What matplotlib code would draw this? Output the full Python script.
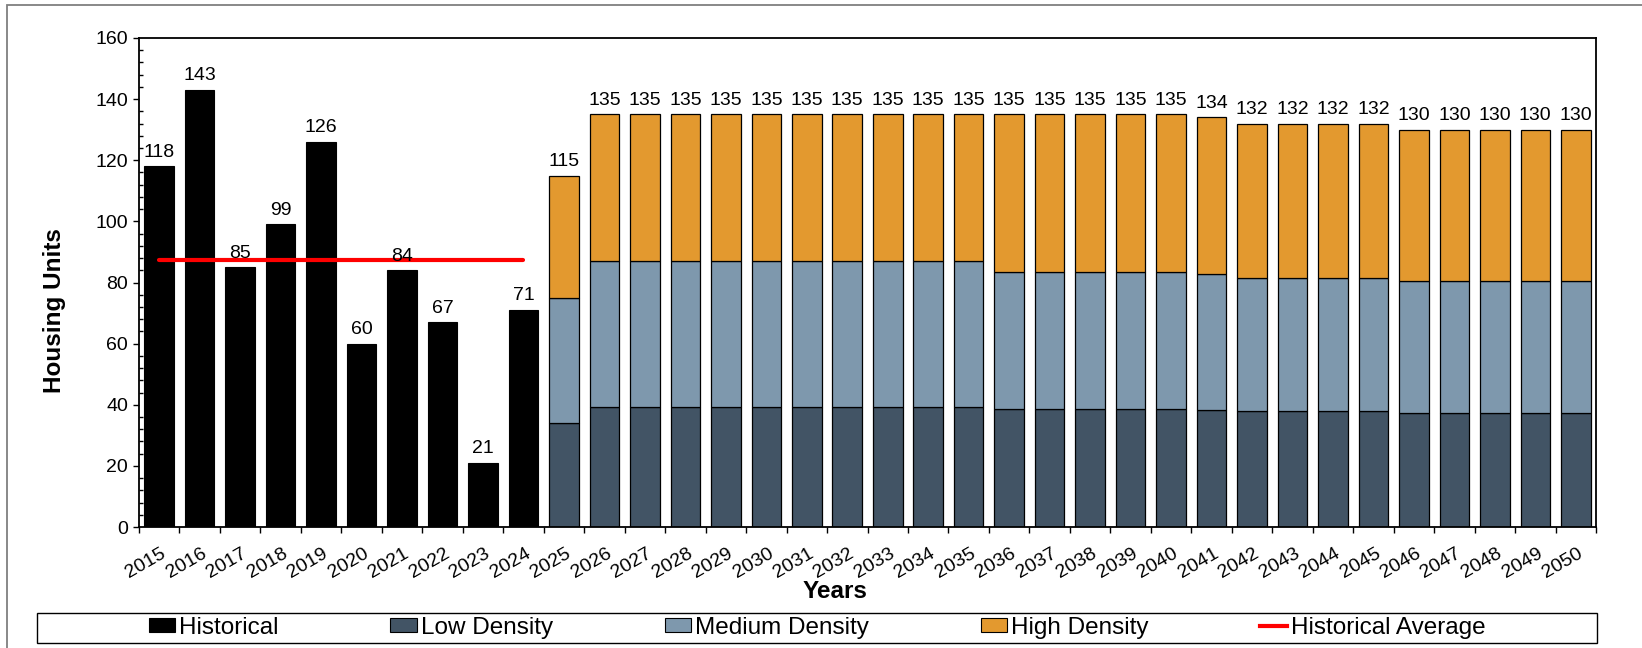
import numpy as np
import matplotlib
matplotlib.use("Agg")
import matplotlib.pyplot as plt
from matplotlib.patches import Rectangle, Patch
from matplotlib.lines import Line2D
from matplotlib.ticker import MultipleLocator
from matplotlib.transforms import ScaledTranslation

plt.rcParams["font.family"] = ["Liberation Sans", "DejaVu Sans"]

# ---- data -------------------------------------------------------------
hist_years = [2015, 2016, 2017, 2018, 2019, 2020, 2021, 2022, 2023, 2024]
hist_units = [118, 143, 85, 99, 126, 60, 84, 67, 21, 71]

proj_years = list(range(2025, 2051))
low_density = [34.0] + [39.3] * 10 + [38.6] * 5 + [38.3] + [37.8] * 4 + [37.3] * 5
medium_density = [41.0] + [47.7] * 10 + [44.9] * 5 + [44.5] + [43.8] * 4 + [43.1] * 5
high_density = [40.0] + [48.0] * 10 + [51.5] * 5 + [51.2] + [50.4] * 4 + [49.6] * 5

legend_labels = ["Historical", "Low Density", "Medium Density", "High Density",
                 "Historical Average"]

# ---- styling ----------------------------------------------------------
C_HIST = "#000000"
C_LOW = "#425465"
C_MED = "#7E98AD"
C_HIGH = "#E3992F"
C_AVG = "#FF0000"

TICK_FS = 14
VALUE_FS = 14
TITLE_FS = 17.5
LEG_FS = 17.5

W, H = 1642, 648
fig = plt.figure(figsize=(W / 100, H / 100), dpi=100)

# outer chart border
fig.patches.append(Rectangle((7.3 / W, -0.1), 2.0, 1.1 - 5.3 / H,
                             transform=fig.transFigure, fill=False,
                             edgecolor="#7f7f7f", lw=1.3, zorder=0))

ax_l, ax_r, ax_t, ax_b = 139, 1596, 38, 527
ax = fig.add_axes([ax_l / W, 1 - ax_b / H, (ax_r - ax_l) / W, (ax_b - ax_t) / H])

years = hist_years + proj_years
x_hist = np.arange(len(hist_years))
x_proj = np.arange(len(hist_years), len(years))
bw = 0.73

ax.bar(x_hist, hist_units, width=bw, color=C_HIST, edgecolor="black", lw=0.8, zorder=2)

low = np.array(low_density)
med = np.array(medium_density)
high = np.array(high_density)
ax.bar(x_proj, low, width=bw, color=C_LOW, edgecolor="black", lw=0.9, zorder=2)
ax.bar(x_proj, med, bottom=low, width=bw, color=C_MED, edgecolor="black", lw=0.9, zorder=2)
ax.bar(x_proj, high, bottom=low + med, width=bw, color=C_HIGH, edgecolor="black", lw=0.9, zorder=2)

# historical average line
avg = float(np.mean(hist_units))
ax.plot([x_hist[0], x_hist[-1]], [avg, avg], color=C_AVG, lw=3.0,
        solid_capstyle="round", zorder=3)

# value labels
totals = list(hist_units) + list(low + med + high)
for xi, t in zip(np.arange(len(years)), totals):
    ax.annotate(f"{t:.0f}", (xi, t), xytext=(0, 4), textcoords="offset points",
                ha="center", va="bottom", fontsize=VALUE_FS, zorder=4)

# axes
ax.set_xlim(-0.5, len(years) - 0.5)
ax.set_ylim(0, 160)
ax.set_yticks(np.arange(0, 161, 20))
ax.yaxis.set_minor_locator(MultipleLocator(4))
ax.tick_params(axis="y", which="major", direction="out", length=4.3, width=1.0,
               labelsize=TICK_FS, pad=3.6)
ax.tick_params(axis="y", which="minor", direction="in", length=3.0, width=1.0)

ax.set_xticks(np.arange(-0.5, len(years), 1.0))
ax.set_xticklabels([])
ax.set_xticks(np.arange(len(years)), labels=[str(y) for y in years], minor=True)
ax.tick_params(axis="x", which="major", direction="out", length=4.3, width=1.0)
ax.tick_params(axis="x", which="minor", length=0, labelsize=TICK_FS, pad=13)
shift = ScaledTranslation(1 / 72, 0, fig.dpi_scale_trans)
for lab in ax.get_xticklabels(minor=True):
    lab.set_rotation(30)
    lab.set_rotation_mode("anchor")
    lab.set_ha("right")
    lab.set_va("top")
    lab.set_transform(lab.get_transform() + shift)

for sp in ax.spines.values():
    sp.set_linewidth(1.3)
    sp.set_color("black")

ax.set_xlabel("Years", fontsize=TITLE_FS, fontweight="bold", va="center")
ax.xaxis.set_label_coords((835 - ax_l) / (ax_r - ax_l), (ax_b - 591) / (ax_b - ax_t))
ax.set_ylabel("Housing Units", fontsize=TITLE_FS, fontweight="bold", va="center")
ax.yaxis.set_label_coords((55 - ax_l) / (ax_r - ax_l), (ax_b - 311) / (ax_b - ax_t))

# legend box
lb_l, lb_r, lb_t, lb_b = 37, 1597, 613, 643
fig.patches.append(Rectangle((lb_l / W, 1 - lb_b / H), (lb_r - lb_l) / W, (lb_b - lb_t) / H,
                             transform=fig.transFigure, fill=False,
                             edgecolor="black", lw=1.0, zorder=1))

handles = [
    Patch(facecolor=C_HIST, edgecolor="black", lw=0.8),
    Patch(facecolor=C_LOW, edgecolor="black", lw=0.8),
    Patch(facecolor=C_MED, edgecolor="black", lw=0.8),
    Patch(facecolor=C_HIGH, edgecolor="black", lw=0.8),
    Line2D([], [], color=C_AVG, lw=3.0),
]
fs_px = LEG_FS * 100 / 72
center = ((lb_l + lb_r) / 2 / W, 1 - (lb_t + lb_b) / 2 / H)


def make_legend(colsp):
    return fig.legend(handles, legend_labels, ncol=5, loc="center",
                      bbox_to_anchor=center, frameon=False, fontsize=LEG_FS,
                      handlelength=1.1, handleheight=0.52, handletextpad=0.15,
                      columnspacing=colsp, borderpad=0, borderaxespad=0)


# spread the legend entries evenly across the box
c0 = 2.0
leg = make_legend(c0)
fig.canvas.draw()
bb = leg.get_window_extent()
entries_w = bb.width - 4 * c0 * fs_px
gap = ((lb_r - lb_l) - entries_w) / 6
leg.remove()
leg = make_legend(gap / fs_px)

fig.savefig("out.png", dpi=100)
